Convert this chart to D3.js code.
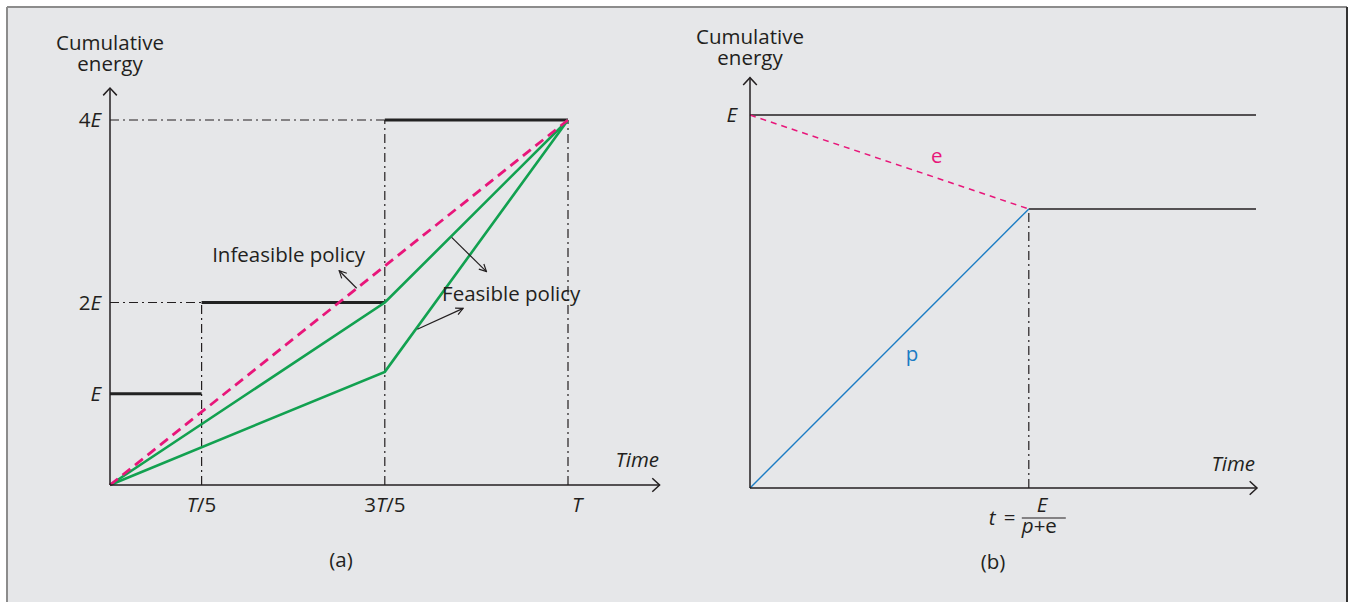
<!DOCTYPE html>
<html>
<head>
<meta charset="utf-8">
<script src="https://cdn.jsdelivr.net/npm/d3@7"></script>
<style>
  html, body { margin: 0; padding: 0; background: #ffffff; }
  svg { display: block; }
  text { font-family: "Open Sans", "Noto Sans", sans-serif; fill: #231f20; }
</style>
</head>
<body>
<svg id="chart" width="1356" height="602"></svg>
<script>
// ---------- data: panel (a) ----------
const aTickValues = [0.2, 0.6, 1];                 // fractions of T
const aTickLabels = [["", "T", "/5"], ["3", "T", "/5"], ["", "T", ""]];
const aLevelValues = [1, 2, 4];                    // multiples of E
const aLevelLabels = [["", "E"], ["2", "E"], ["4", "E"]];
const aSteps = [[0, 0.2, 1], [0.2, 0.6, 2], [0.6, 1, 4]];   // [t0, t1, level]
const aInfeasible = [[0, 0], [1, 4]];
const aFeasibleUpper = [[0, 0], [0.6, 2], [1, 4]];
const aFeasibleLower = [[0, 0], [0.6, 1.24], [1, 4]];
const aGuidesH = [[0, 0.6, 4], [0, 0.2, 2]];       // [t0, t1, level]
const aGuidesV = [[0.2, 2], [0.6, 4], [1, 4]];     // [t, top level]
const aAnnotations = [
  { text: "Infeasible policy", at: [0.223, 2.444] },
  { text: "Feasible policy", at: [0.725, 2.016] }
];
const aArrows = [
  [[0.5386, 2.156], [0.5004, 2.348]],
  [[0.746, 2.714], [0.822, 2.338]],
  [[0.671, 1.706], [0.771, 1.936]]
];

// ---------- data: panel (b) ----------
const bTStar = 0.551;        // t = E/(p+e), fraction of time axis
const bLevel = 0.748;        // cumulative level reached at t
const bTopLine = [[0, 1], [1, 1]];
const bLowLine = [[bTStar, bLevel], [1, bLevel]];
const bE = [[0, 1], [bTStar, bLevel]];
const bP = [[0, 0], [bTStar, bLevel]];

// ---------- drawing ----------
const svg = d3.select("#chart");
const ink = "#231f20";
const pink = "#e8167a";
const green = "#12a150";
const blue = "#1b7cc4";
const dashDot = "9,4,2,4";
const FS = 20.5;

// frame
svg.append("rect").attr("x", 7).attr("y", 7).attr("width", 1340).attr("height", 600)
  .attr("fill", "#e6e7e9");
svg.append("line").attr("x1", 7).attr("y1", 7).attr("x2", 1347).attr("y2", 7)
  .attr("stroke", "#8c8c8c").attr("stroke-width", 2);
svg.append("line").attr("x1", 7).attr("y1", 7).attr("x2", 7).attr("y2", 602)
  .attr("stroke", "#8c8c8c").attr("stroke-width", 2);
svg.append("line").attr("x1", 1347).attr("y1", 7).attr("x2", 1347).attr("y2", 602)
  .attr("stroke", "#333").attr("stroke-width", 2);

const defs = svg.append("defs");
defs.append("marker").attr("id", "openArrow")
  .attr("viewBox", "0 0 10 10").attr("refX", 9).attr("refY", 5)
  .attr("markerWidth", 9).attr("markerHeight", 9)
  .attr("markerUnits", "userSpaceOnUse").attr("orient", "auto")
  .append("path").attr("d", "M1,1 L9,5 L1,9")
  .attr("fill", "none").attr("stroke", ink).attr("stroke-width", 1.3);

function axisArrow(g, x1, y1, x2, y2) {
  g.append("line").attr("x1", x1).attr("y1", y1).attr("x2", x2).attr("y2", y2)
    .attr("stroke", ink).attr("stroke-width", 1.5);
  const ang = Math.atan2(y2 - y1, x2 - x1);
  const L = 10, W = 0.75;
  const p = [
    [x2 - L * Math.cos(ang - W), y2 - L * Math.sin(ang - W)],
    [x2, y2],
    [x2 - L * Math.cos(ang + W), y2 - L * Math.sin(ang + W)]
  ];
  g.append("path").attr("d", d3.line()(p)).attr("fill", "none")
    .attr("stroke", ink).attr("stroke-width", 1.5);
}

function richText(g, x, y, parts, anchor, size) {
  const t = g.append("text").attr("x", x).attr("y", y)
    .attr("text-anchor", anchor).attr("font-size", size);
  parts.forEach((p, i) => {
    if (p === "") return;
    t.append("tspan").text(p).attr("font-style", i === 1 ? "italic" : "normal");
  });
  return t;
}

function twoLine(g, x, y1, y2, l1, l2) {
  const t = g.append("text").attr("text-anchor", "middle").attr("font-size", FS);
  t.append("tspan").attr("x", x).attr("y", y1).text(l1);
  t.append("tspan").attr("x", x).attr("y", y2).text(l2);
}

// ===== panel (a) =====
const xA = d3.scaleLinear().domain([0, 1]).range([110, 568]);
const yA = d3.scaleLinear().domain([0, 4]).range([485, 120]);
const gA = svg.append("g");
const lineA = d3.line().x(d => xA(d[0])).y(d => yA(d[1]));

aGuidesH.forEach(d => {
  gA.append("line").attr("x1", xA(d[0])).attr("x2", xA(d[1]))
    .attr("y1", yA(d[2])).attr("y2", yA(d[2]))
    .attr("stroke", ink).attr("stroke-width", 1.2).attr("stroke-dasharray", dashDot);
});
aGuidesV.forEach(d => {
  gA.append("line").attr("x1", xA(d[0])).attr("x2", xA(d[0]))
    .attr("y1", yA(0)).attr("y2", yA(d[1]))
    .attr("stroke", ink).attr("stroke-width", 1.2).attr("stroke-dasharray", dashDot);
});

aSteps.forEach(d => {
  gA.append("line").attr("x1", xA(d[0])).attr("x2", xA(d[1]))
    .attr("y1", yA(d[2])).attr("y2", yA(d[2]))
    .attr("stroke", "#222").attr("stroke-width", 3);
});

gA.append("path").attr("d", lineA(aFeasibleLower)).attr("fill", "none")
  .attr("stroke", green).attr("stroke-width", 2.6);
gA.append("path").attr("d", lineA(aFeasibleUpper)).attr("fill", "none")
  .attr("stroke", green).attr("stroke-width", 2.6);
gA.append("path").attr("d", lineA(aInfeasible)).attr("fill", "none")
  .attr("stroke", pink).attr("stroke-width", 2.8).attr("stroke-dasharray", "10,6");

axisArrow(gA, xA(0), yA(0), xA(0), yA(4.35));
axisArrow(gA, xA(0), yA(0), xA(1.2), yA(0));

aTickValues.forEach((v, i) => {
  richText(gA, xA(v) + (v === 1 ? 9 : 0), 512, aTickLabels[i], "middle", FS);
});
aLevelValues.forEach((v, i) => {
  richText(gA, 101, yA(v) + 7, aLevelLabels[i], "end", FS);
});

aAnnotations.forEach(a => {
  gA.append("text").attr("x", xA(a.at[0])).attr("y", yA(a.at[1]))
    .attr("font-size", FS).text(a.text);
});
aArrows.forEach(a => {
  gA.append("line").attr("x1", xA(a[0][0])).attr("y1", yA(a[0][1]))
    .attr("x2", xA(a[1][0])).attr("y2", yA(a[1][1]))
    .attr("stroke", ink).attr("stroke-width", 1.2).attr("marker-end", "url(#openArrow)");
});

twoLine(gA, 110, 50, 71, "Cumulative", "energy");
gA.append("text").attr("x", 659).attr("y", 467).attr("text-anchor", "end")
  .attr("font-size", FS).attr("font-style", "italic").text("Time");
gA.append("text").attr("x", 341).attr("y", 567).attr("text-anchor", "middle")
  .attr("font-size", FS).text("(a)");

// ===== panel (b) =====
const xB = d3.scaleLinear().domain([0, 1]).range([750, 1256]);
const yB = d3.scaleLinear().domain([0, 1]).range([488, 115]);
const gB = svg.append("g");
const lineB = d3.line().x(d => xB(d[0])).y(d => yB(d[1]));

gB.append("line").attr("x1", xB(bTStar)).attr("x2", xB(bTStar))
  .attr("y1", yB(0)).attr("y2", yB(bLevel))
  .attr("stroke", ink).attr("stroke-width", 1.2).attr("stroke-dasharray", dashDot);

gB.append("path").attr("d", lineB(bTopLine)).attr("fill", "none")
  .attr("stroke", ink).attr("stroke-width", 1.5);
gB.append("path").attr("d", lineB(bLowLine)).attr("fill", "none")
  .attr("stroke", ink).attr("stroke-width", 1.5);
gB.append("path").attr("d", lineB(bP)).attr("fill", "none")
  .attr("stroke", blue).attr("stroke-width", 1.4);
gB.append("path").attr("d", lineB(bE)).attr("fill", "none")
  .attr("stroke", pink).attr("stroke-width", 1.5).attr("stroke-dasharray", "6,5");

axisArrow(gB, xB(0), yB(0), xB(0), yB(1.1));
axisArrow(gB, xB(0), yB(0), xB(1.002), yB(0));

gB.append("text").attr("x", xB(0.369)).attr("y", yB(0.871)).attr("text-anchor", "middle")
  .attr("font-size", FS).style("fill", pink).text("e");
gB.append("text").attr("x", xB(0.32)).attr("y", yB(0.34)).attr("text-anchor", "middle")
  .attr("font-size", FS).style("fill", blue).text("p");
gB.append("text").attr("x", 737).attr("y", yB(1) + 7).attr("text-anchor", "end")
  .attr("font-size", FS).attr("font-style", "italic").text("E");

twoLine(gB, 750, 44, 65, "Cumulative", "energy");
gB.append("text").attr("x", 1255).attr("y", 471).attr("text-anchor", "end")
  .attr("font-size", FS).attr("font-style", "italic").text("Time");

// formula t = E/(p+e) as one text element
const fx = xB(bTStar);
const ft = gB.append("text").attr("font-size", FS);
ft.append("tspan").attr("x", fx - 40).attr("y", 525).attr("font-style", "italic").text("t");
ft.append("tspan").attr("x", fx - 25).attr("y", 525).text("=");
ft.append("tspan").attr("x", fx + 8).attr("y", 512).attr("font-style", "italic").text("E");
ft.append("tspan").attr("x", fx - 7).attr("y", 533).attr("font-style", "italic").text("p");
ft.append("tspan").text("+e");
gB.append("line").attr("x1", fx - 7).attr("x2", fx + 37).attr("y1", 518).attr("y2", 518)
  .attr("stroke", ink).attr("stroke-width", 1.2);
gB.append("text").attr("x", 993).attr("y", 569).attr("text-anchor", "middle")
  .attr("font-size", FS).text("(b)");
</script>
</body>
</html>
